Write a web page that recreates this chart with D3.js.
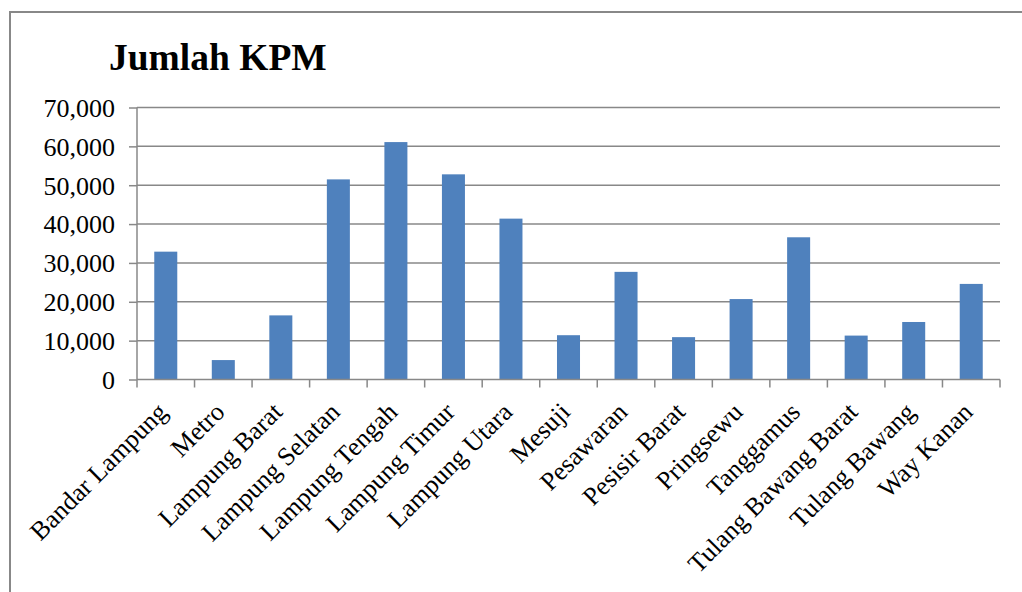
<!DOCTYPE html>
<html>
<head>
<meta charset="utf-8">
<script src="https://cdn.jsdelivr.net/npm/d3@7"></script>
<style>
  body { margin: 0; background: #fff; }
  svg text { font-family: "Times New Roman", "Liberation Serif", serif; fill: #000; }
</style>
</head>
<body>
<svg id="chart" width="1022" height="592"></svg>
<script>
// data
var categories = ['Bandar Lampung', 'Metro', 'Lampung Barat', 'Lampung Selatan', 'Lampung Tengah',
  'Lampung Timur', 'Lampung Utara', 'Mesuji', 'Pesawaran', 'Pesisir Barat', 'Pringsewu',
  'Tanggamus', 'Tulang Bawang Barat', 'Tulang Bawang', 'Way Kanan'];
var kpm = [32900, 5000, 16500, 51500, 61100, 52800, 41400, 11400, 27700, 10900, 20700,
  36600, 11300, 14800, 24600];
var yTicks = [0, 10000, 20000, 30000, 40000, 50000, 60000, 70000];
var title = 'Jumlah KPM';

var margins = {top: 107.5, left: 137, right: 22, bottom: 212.5},
	svgWidth = 1022, svgHeight = 592,
	width = svgWidth - margins.left - margins.right,
	height = svgHeight - margins.top - margins.bottom,
	grid_color = '#888',
	bar_color = '#4F81BD';

var vis = d3.select('#chart');

// outer frame of the chart area
vis.append('path')
	.attr('d', 'M10,' + svgHeight + 'V12H' + svgWidth)
	.attr('fill', 'none')
	.attr('stroke', grid_color)
	.attr('stroke-width', 2);

vis.append('text')
	.attr('x', 109)
	.attr('y', 70)
	.attr('font-size', 37.5)
	.attr('font-weight', 'bold')
	.text(title);

var g = vis.append('g')
	.attr('transform', 'translate(' + margins.left + ',' + margins.top + ')');

var x = d3.scaleBand().domain(categories).range([0, width]).paddingInner(0.6).paddingOuter(0.3);
var y = d3.scaleLinear().domain([0, 70000]).range([height, 0]);

// gridlines
g.append('g')
	.selectAll('line')
	.data(yTicks.slice(1))
	.enter().append('line')
	.attr('x1', 0)
	.attr('x2', width)
	.attr('y1', function(d) { return y(d); })
	.attr('y2', function(d) { return y(d); })
	.attr('stroke', grid_color)
	.attr('stroke-width', 1.5);

// bars
g.selectAll('rect.bar')
	.data(kpm)
	.enter().append('rect')
	.attr('class', 'bar')
	.attr('x', function(d, i) { return x(categories[i]); })
	.attr('y', function(d) { return y(d); })
	.attr('width', x.bandwidth())
	.attr('height', function(d) { return height - y(d); })
	.attr('fill', bar_color);

// y axis
var yAxis = g.append('g')
	.call(d3.axisLeft(y).tickValues(yTicks).tickSize(8).tickPadding(14)
		.tickFormat(d3.format(',')));
yAxis.selectAll('text').attr('font-size', 26).attr('dy', '0.34em')
	.style('font-family', '"Times New Roman", "Liberation Serif", serif');
yAxis.selectAll('line, path').attr('stroke', grid_color).attr('stroke-width', 1.5);
yAxis.select('path').attr('d', 'M0,' + height + 'V0');

// x axis: category ticks sit on band boundaries
var step = x.step();
var xAxis = g.append('g')
	.attr('transform', 'translate(0,' + height + ')');
xAxis.append('line')
	.attr('x1', 0).attr('x2', width)
	.attr('stroke', grid_color).attr('stroke-width', 1.5);
xAxis.selectAll('line.tick')
	.data(d3.range(categories.length + 1))
	.enter().append('line')
	.attr('class', 'tick')
	.attr('x1', function(i) { return i * step; })
	.attr('x2', function(i) { return i * step; })
	.attr('y1', 0).attr('y2', 8)
	.attr('stroke', grid_color).attr('stroke-width', 1.5);

xAxis.selectAll('text')
	.data(categories)
	.enter().append('text')
	.attr('font-size', 26)
	.attr('text-anchor', 'end')
	.attr('transform', function(d) {
		return 'translate(' + (x(d) + x.bandwidth() / 2 + 3) + ',34) rotate(-45)';
	})
	.text(function(d) { return d; });
</script>
</body>
</html>
